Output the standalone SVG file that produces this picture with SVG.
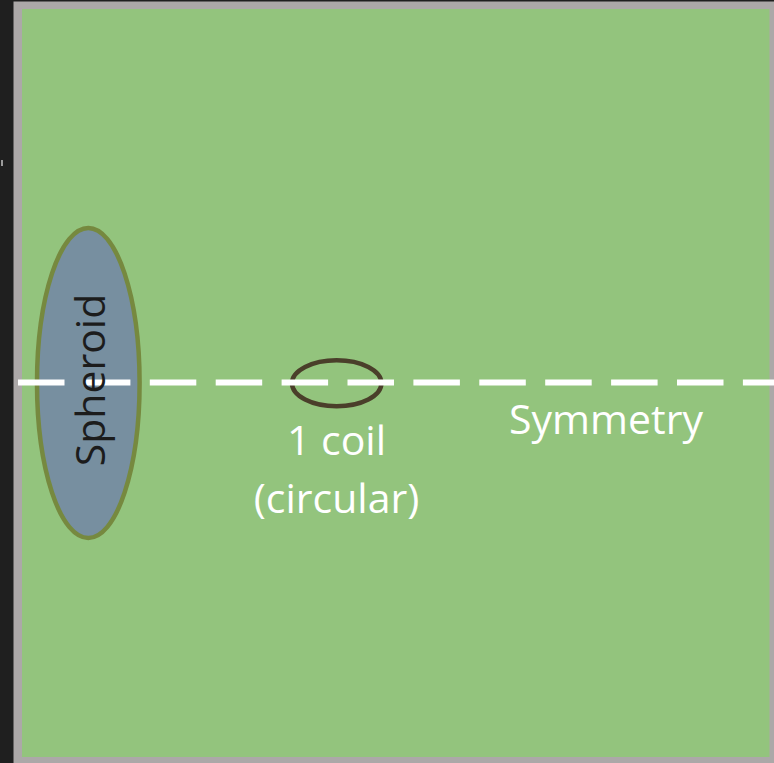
<svg xmlns="http://www.w3.org/2000/svg" width="774" height="763" viewBox="0 0 774 763">
  <style>
    .label { font-family: "Open Sans", "Noto Sans", sans-serif; font-size: 41px; text-anchor: middle; }
    .light { fill: #ffffff; }
    .dark { fill: #1c1c1c; }
  </style>
  <!-- window background and framed canvas -->
  <rect x="0" y="0" width="774" height="763" fill="#1f1f1f"/>
  <rect x="1" y="160" width="2" height="6" fill="#9a9a9a"/>
  <rect x="13.5" y="1.5" width="761" height="762" fill="#aca8a8"/>
  <rect x="22" y="9" width="747.5" height="748" fill="#93c47d"/>

  <!-- spheroid body -->
  <g id="spheroid">
    <ellipse cx="88.3" cy="383" rx="51.3" ry="155" fill="#778fa0" stroke="#76893f" stroke-width="4.5"/>
  </g>

  <!-- circular coil -->
  <g id="coil">
    <ellipse cx="336.7" cy="383.3" rx="44.7" ry="23" fill="none" stroke="#4a3f2a" stroke-width="4.5"/>
  </g>

  <!-- axis of symmetry, drawn over the shapes but under the labels -->
  <g id="connectors">
    <line x1="18" y1="382.5" x2="774" y2="382.5" stroke="#ffffff" stroke-width="6" stroke-dasharray="46.5 19.4"/>
  </g>

  <g id="spheroid-label">
    <text class="label dark" transform="translate(105,380) rotate(-90)">Spheroid</text>
  </g>

  <g id="coil-label">
    <text class="label light" x="336.5" y="455">1 coil</text>
    <text class="label light" x="336.5" y="513">(circular)</text>
  </g>

  <g id="symmetry-label">
    <text class="label light" x="606" y="434">Symmetry</text>
  </g>
</svg>
